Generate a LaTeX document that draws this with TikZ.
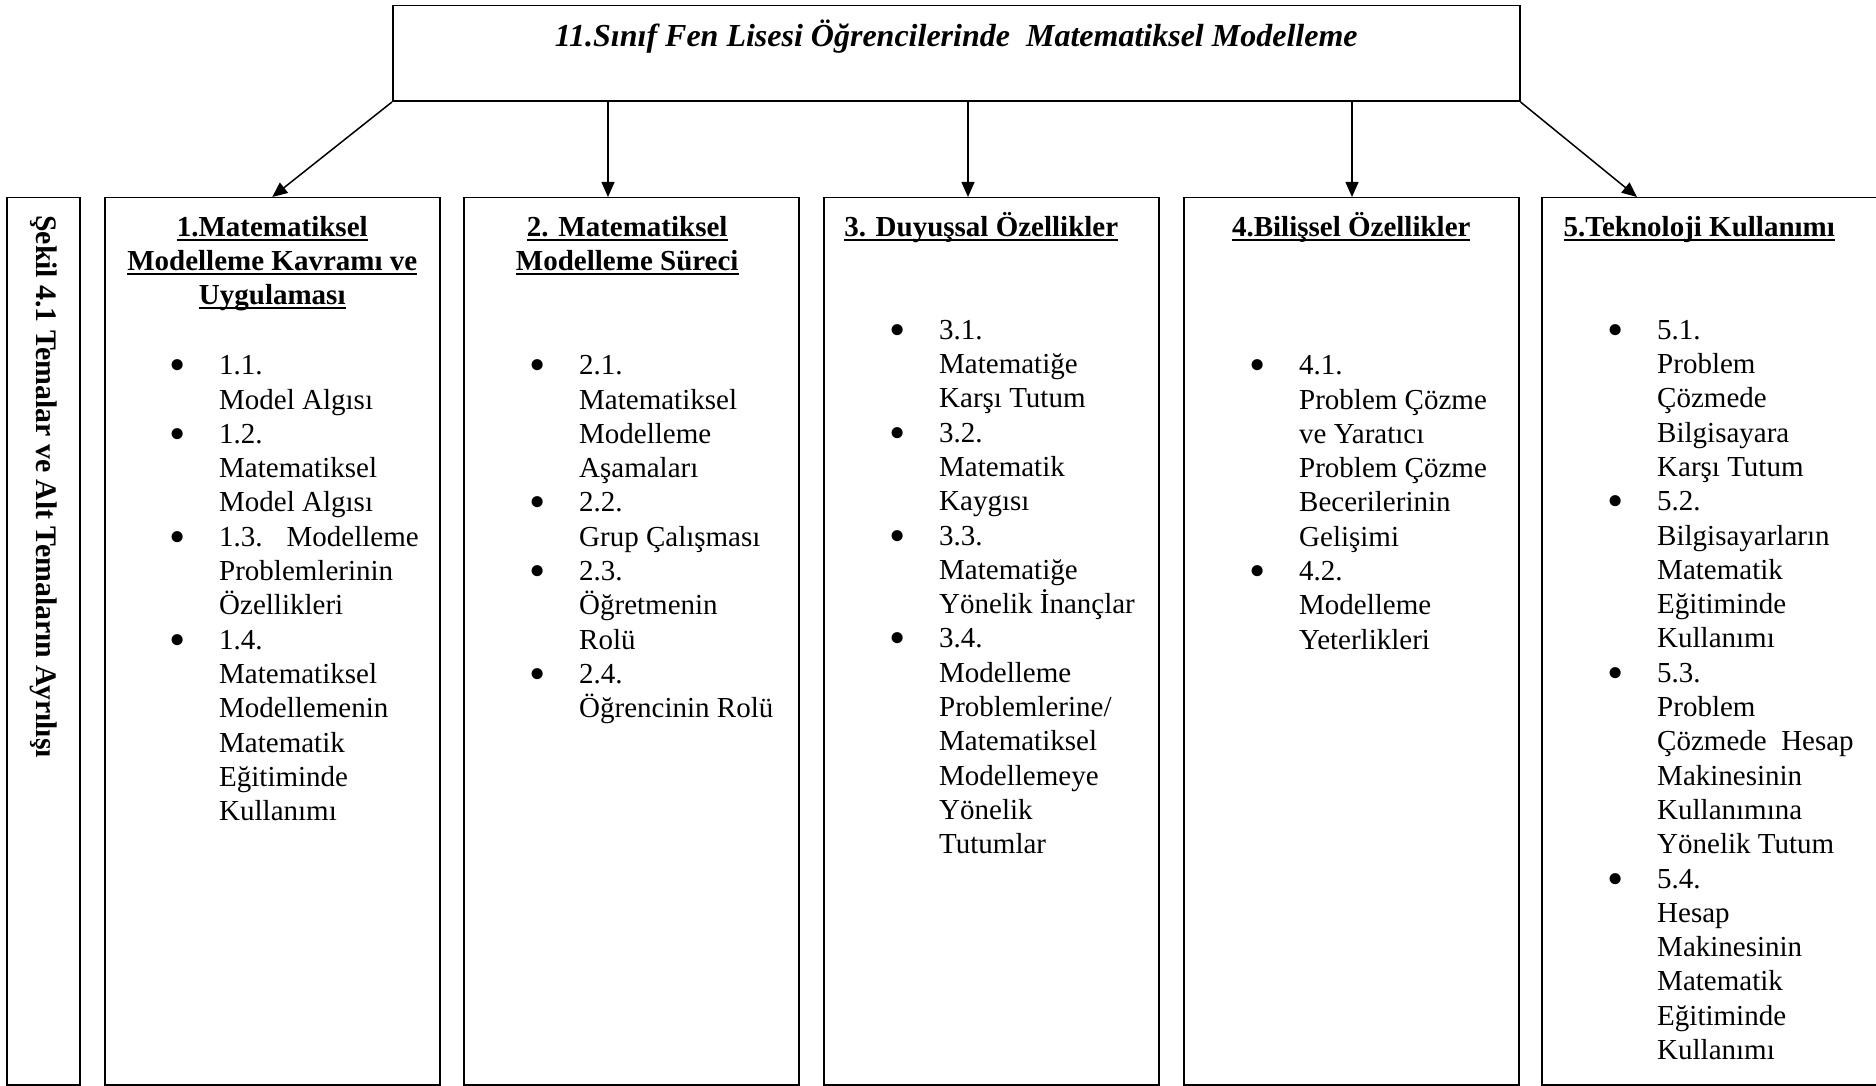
\documentclass[tikz,border=0pt]{standalone}
\usepackage{fontspec}
\usepackage{graphicx}
\setmainfont{Liberation Serif}
\usetikzlibrary{arrows.meta,calc}

% text size used throughout
\newcommand\bodysize{\fontsize{29}{34.3}\selectfont}
% bullet hanging to the left of an item line
\newcommand\bl{\llap{\makebox[10pt]{\raisebox{-6pt}{\scalebox{1.6}{\textbullet}}}\hspace*{37pt}}}
% fixed-height strut on the first line of a text block
\newcommand\fs{\rule{0pt}{28pt}}
% underline at a fixed depth below the baseline
\newcommand\hul[1]{\setbox0\hbox{#1}\rlap{\rule[-4.5pt]{\wd0}{2pt}}\box0}

\tikzset{
  panel/.style={draw, line width=1.5pt, inner sep=0pt, anchor=north west,
                minimum width=335pt, minimum height=887pt},
  head/.style={align=center, font=\bodysize\bfseries, inner sep=0pt, anchor=north},
  items/.style={align=left, font=\bodysize, inner sep=0pt, anchor=north west},
  arr/.style={-{Triangle[length=15pt,width=13pt]}, line width=1.5pt},
}

\begin{document}
\begin{tikzpicture}[x=1pt, y=-1pt, font=\bodysize]
\useasboundingbox (0,0) rectangle (1876,1086);
\clip (0,0) rectangle (1876,1086);

% main topic
\node[draw, line width=1.5pt, inner sep=0pt, anchor=north west,
      minimum width=1127pt, minimum height=95.5pt] (top) at (392,5) {};
\node[anchor=base, inner sep=0pt, font=\fontsize{32}{38}\selectfont\bfseries\itshape] (title)
  at ($(top.north)+(0,42)$) {11.Sınıf Fen Lisesi Öğrencilerinde\ \ Matematiksel Modelleme};

% caption box
\node[draw, line width=1.5pt, inner sep=0pt, anchor=north west,
      minimum width=73pt, minimum height=887pt] (side) at (6,197) {};
\node[rotate=-90, anchor=west, inner sep=0pt, font=\fontsize{29.8}{35}\selectfont\bfseries] (cap)
  at ($(side.north)+(0.5,18)$) {Şekil 4.1 Temalar ve Alt Temaların Ayrılışı};

% theme boxes
\node[panel] (b1) at (104,197) {};
\node[panel] (b2) at (463,197) {};
\node[panel] (b3) at (823,197) {};
\node[panel] (b4) at (1183,197) {};
\node[panel] (b5) at (1541,197) {};

% theme titles
\node[head] (h1) at ($(b1.north)+(0,11)$)
  {\fs\hul{1.Matematiksel}\\\hul{Modelleme Kavramı ve}\\\hul{Uygulaması}};
\node[head] (h2) at ($(b2.north)+(-4,11)$)
  {\fs\hul{2. Matematiksel}\\\hul{Modelleme Süreci}};
\node[head] (h3) at ($(b3.north)+(-10,11)$)
  {\fs\hul{3. Duyuşsal Özellikler}};
\node[head] (h4) at ($(b4.north)+(0,11)$)
  {\fs\hul{4.Bilişsel Özellikler}};
\node[head] (h5) at ($(b5.north)+(-10,11)$)
  {\fs\hul{5.Teknoloji Kullanımı}};

% sub-themes
\node[items] (l1) at ($(b1.north west)+(115,149.5)$)
  {\fs\bl 1.1.\\Model Algısı\\\bl 1.2.\\Matematiksel\\Model Algısı\\
   \bl 1.3.\hspace{24pt}Modelleme\\Problemlerinin\\Özellikleri\\
   \bl 1.4.\\Matematiksel\\Modellemenin\\Matematik\\Eğitiminde\\Kullanımı};
\node[items] (l2) at ($(b2.north west)+(116,149.5)$)
  {\fs\bl 2.1.\\Matematiksel\\Modelleme\\Aşamaları\\\bl 2.2.\\Grup Çalışması\\
   \bl 2.3.\\Öğretmenin\\Rolü\\\bl 2.4.\\Öğrencinin Rolü};
\node[items] (l3) at ($(b3.north west)+(116,114)$)
  {\fs\bl 3.1.\\Matematiğe\\Karşı Tutum\\\bl 3.2.\\Matematik\\Kaygısı\\
   \bl 3.3.\\Matematiğe\\Yönelik İnançlar\\\bl 3.4.\\Modelleme\\Problemlerine/\\
   Matematiksel\\Modellemeye\\Yönelik\\Tutumlar};
\node[items] (l4) at ($(b4.north west)+(116,149.5)$)
  {\fs\bl 4.1.\\Problem Çözme\\ve Yaratıcı\\Problem Çözme\\Becerilerinin\\Gelişimi\\
   \bl 4.2.\\Modelleme\\Yeterlikleri};
\node[items] (l5) at ($(b5.north west)+(116,114)$)
  {\fs\bl 5.1.\\Problem\\Çözmede\\Bilgisayara\\Karşı Tutum\\
   \bl 5.2.\\Bilgisayarların\\Matematik\\Eğitiminde\\Kullanımı\\
   \bl 5.3.\\Problem\\Çözmede\ \ Hesap\\Makinesinin\\Kullanımına\\Yönelik Tutum\\
   \bl 5.4.\\Hesap\\Makinesinin\\Matematik\\Eğitiminde\\Kullanımı};

% arrow ends on the theme boxes
\coordinate (t2) at ($(b2.north west)+(145,0)$);
\coordinate (t3) at ($(b3.north west)+(145,0)$);
\coordinate (t4) at ($(b4.north west)+(169,0)$);
\coordinate (t5) at ($(b5.north west)+(96,0)$);

\draw[arr] (top.south west) -- (b1.north);
\draw[arr] (top.south -| t2) -- (t2);
\draw[arr] (top.south -| t3) -- (t3);
\draw[arr] (top.south -| t4) -- (t4);
\draw[arr] (top.south east) -- (t5);
\end{tikzpicture}
\end{document}
